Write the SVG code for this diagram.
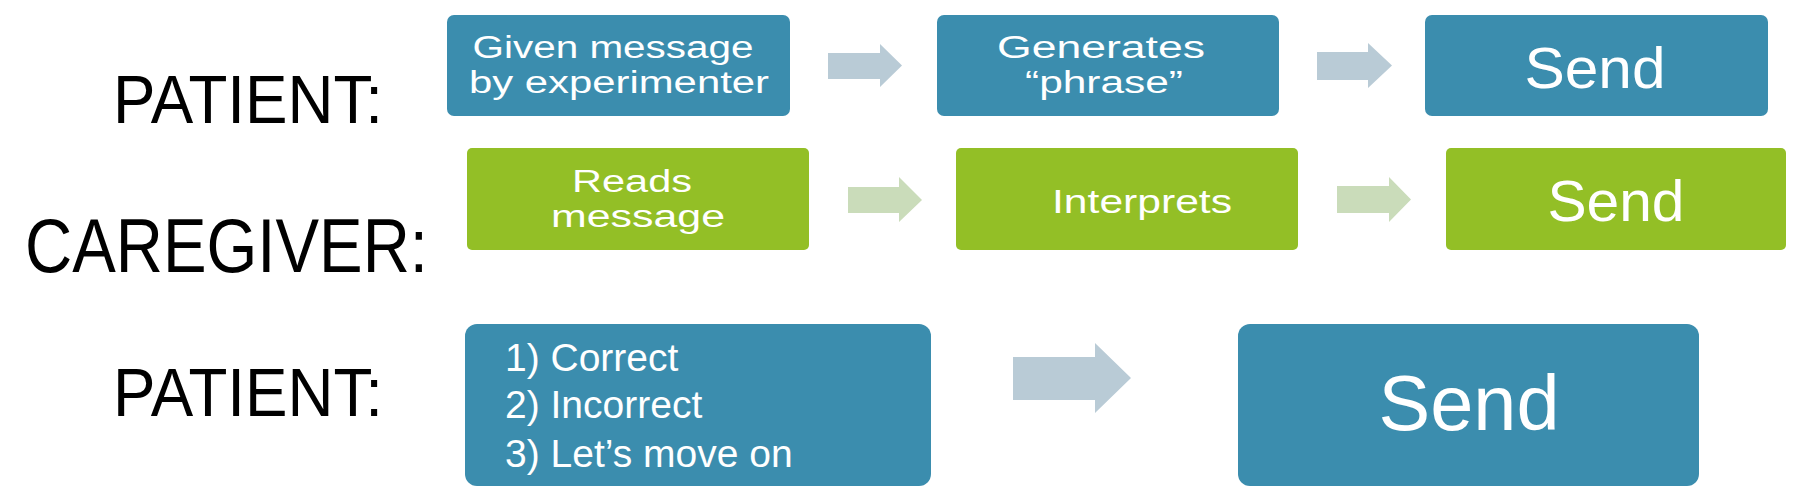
<svg xmlns="http://www.w3.org/2000/svg" width="1820" height="500" viewBox="0 0 1820 500">
<style>
.lbl{font-family:"Liberation Sans",Arial,sans-serif;fill:#000;}
.bt{font-family:"Liberation Sans",Arial,sans-serif;fill:#fff;text-anchor:middle;font-size:31px;}
.bt.big{font-size:58px;}
.bt.huge{font-size:78px;}
.bt.mid{font-size:34px;}
.lt{font-family:"Liberation Sans",Arial,sans-serif;fill:#fff;font-size:39px;}
.blue{fill:#3B8DAE;}
.green{fill:#93BF26;}
.ab{fill:#B9CBD6;}
.ag{fill:#CADCBA;}
</style>
<rect width="1820" height="500" fill="#fff"/>
<g id="labels">
<text class="lbl" x="113" y="123" font-size="68" textLength="270" lengthAdjust="spacingAndGlyphs">PATIENT:</text>
<text class="lbl" x="25" y="272" font-size="76" textLength="403" lengthAdjust="spacingAndGlyphs">CAREGIVER:</text>
<text class="lbl" x="113" y="416" font-size="68" textLength="270" lengthAdjust="spacingAndGlyphs">PATIENT:</text>
</g>
<g id="connectors">
<path class="ab" d="M828,53 H880 V44 L902,65.5 L880,87 V79 H828 Z"/>
<path class="ab" d="M1317,52 H1368 V43 L1392,65.5 L1368,88 V80 H1317 Z"/>
<path class="ag" d="M848,187 H899 V177 L922,200 L899,222 V213 H848 Z"/>
<path class="ag" d="M1337,186 H1389 V177 L1411,199.5 L1389,222 V213 H1337 Z"/>
<path class="ab" d="M1013,357 H1095 V343 L1131,378 L1095,413 V400 H1013 Z"/>
</g>
<g id="p1">
<rect class="blue" x="447" y="15" width="343" height="101" rx="7"/>
<text class="bt" x="613" y="58" textLength="281" lengthAdjust="spacingAndGlyphs">Given message</text>
<text class="bt" x="619" y="93" textLength="300" lengthAdjust="spacingAndGlyphs">by experimenter</text>
</g>
<g id="p2">
<rect class="blue" x="937" y="15" width="342" height="101" rx="7"/>
<text class="bt" x="1101" y="58" textLength="208" lengthAdjust="spacingAndGlyphs">Generates</text>
<text class="bt" x="1104" y="93" textLength="158" lengthAdjust="spacingAndGlyphs">“phrase”</text>
</g>
<g id="p3">
<rect class="blue" x="1425" y="15" width="343" height="101" rx="7"/>
<text class="bt big" x="1595" y="88" textLength="141" lengthAdjust="spacingAndGlyphs">Send</text>
</g>
<g id="c1">
<rect class="green" x="467" y="148" width="342" height="102" rx="5"/>
<text class="bt" x="632" y="192" textLength="120" lengthAdjust="spacingAndGlyphs">Reads</text>
<text class="bt" x="638" y="227" textLength="174" lengthAdjust="spacingAndGlyphs">message</text>
</g>
<g id="c2">
<rect class="green" x="956" y="148" width="342" height="102" rx="5"/>
<text class="bt mid" x="1142" y="213" textLength="180" lengthAdjust="spacingAndGlyphs">Interprets</text>
</g>
<g id="c3">
<rect class="green" x="1446" y="148" width="340" height="102" rx="5"/>
<text class="bt big" x="1616" y="221" textLength="137" lengthAdjust="spacingAndGlyphs">Send</text>
</g>
<g id="r1">
<rect class="blue" x="465" y="324" width="466" height="162" rx="12"/>
<text class="lt" x="505" y="371">1) Correct</text>
<text class="lt" x="505" y="418">2) Incorrect</text>
<text class="lt" x="505" y="467">3) Let’s move on</text>
</g>
<g id="r2">
<rect class="blue" x="1238" y="324" width="461" height="162" rx="12"/>
<text class="bt huge" x="1469" y="430" textLength="181" lengthAdjust="spacingAndGlyphs">Send</text>
</g>
</svg>
